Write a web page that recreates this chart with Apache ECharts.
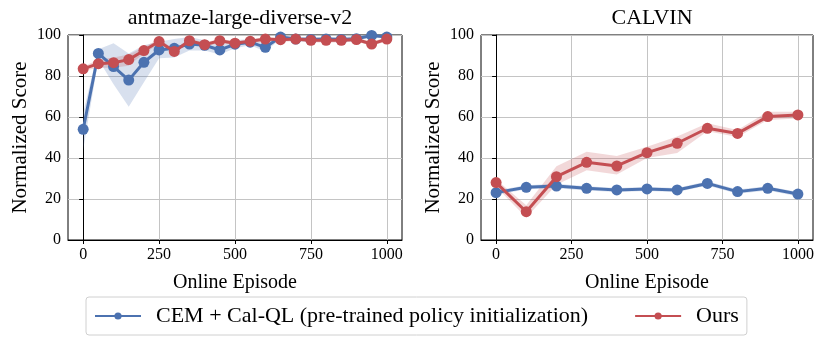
<!DOCTYPE html>
<html>
<head>
<meta charset="utf-8">
<script src="https://cdn.jsdelivr.net/npm/echarts@6/dist/echarts.min.js"></script>
<style>
  html, body { margin: 0; padding: 0; background: #fff; }
  #chart { width: 830px; height: 348px; }
</style>
</head>
<body>
<div id="chart"></div>
<script>
// antmaze (left) - episodes every 50
const antX = [0, 50, 100, 150, 200, 250, 300, 350, 400, 450, 500, 550, 600, 650, 700, 750, 800, 850, 900, 950, 1000];
const antBlue = [54, 91, 84.6, 78, 86.7, 92.7, 93.5, 95.6, 95, 92.7, 95.5, 96.5, 94, 99, 98, 97.8, 98, 97.8, 98.2, 99.8, 99];
const antBlueLow = [44, 88, 76, 65, 77, 88.6, 89, 92.5, 92.5, 90.5, 93.5, 95, 92, 98, 97, 96.5, 97, 96.5, 97, 99, 98];
const antBlueHigh = [62, 93, 96, 91, 95, 96.7, 98, 99, 97.5, 95, 97.5, 98, 96, 100, 99, 99, 99, 99, 99.5, 100.5, 100];
const antRed = [83.5, 86, 86.5, 88, 92.4, 96.8, 92, 97.2, 95.3, 97.2, 96, 96.9, 98, 97.7, 98, 97.4, 97.4, 97.4, 97.8, 95.6, 98];
const antRedLow = [82.5, 84, 84, 85, 91, 95.5, 91, 96.2, 94.3, 96.2, 95, 95.9, 97, 96.7, 97, 96.4, 96.4, 96.4, 96.8, 94.6, 97];
const antRedHigh = [84.5, 88, 89, 90.5, 94, 98, 93, 98.2, 96.3, 98.2, 97, 97.9, 99, 98.7, 99, 98.4, 98.4, 98.4, 98.8, 96.6, 99];

// CALVIN (right) - episodes every 100
const calX = [0, 100, 200, 300, 400, 500, 600, 700, 800, 900, 1000];
const calBlue = [23.1, 25.7, 26.3, 25.2, 24.4, 24.9, 24.4, 27.6, 23.6, 25.2, 22.4];
const calBlueLow = [22, 24.7, 25.2, 24.2, 23.4, 23.9, 23.4, 26.6, 22.6, 24.2, 21.4];
const calBlueHigh = [24.2, 26.7, 27.4, 26.2, 25.4, 25.9, 25.4, 28.6, 24.6, 26.2, 23.4];
const calRed = [28, 13.8, 30.9, 37.9, 36.1, 42.6, 47.2, 54.5, 52, 60.2, 61];
const calRedLow = [26, 11, 27, 34, 32, 40, 42.5, 53, 50.3, 58.5, 59.3];
const calRedHigh = [29.5, 17, 36, 43, 41, 45.5, 50.5, 57, 53.6, 62.6, 62.6];

const xTicks = [0, 250, 500, 750, 1000];
const titles = ["antmaze-large-diverse-v2", "CALVIN"];
const blueName = "CEM + Cal-QL (pre-trained policy initialization)";
const redName = "Ours";

const BLUE = "#4C72B0";
const RED = "#C44E52";
const FONT = "Liberation Serif";

const pair = (xs, ys) => xs.map((x, i) => [x, ys[i]]);

// shaded band drawn as one polygon through the axis scales
function band(idx, xs, low, high, color) {
  return {
    type: "custom", xAxisIndex: idx, yAxisIndex: idx,
    data: pair(xs, low), silent: true, clip: true, z: 1,
    renderItem: (params, api) => {
      if (params.dataIndex !== 0) return null;
      const pts = xs.map((x, i) => api.coord([x, low[i]]));
      for (let i = xs.length - 1; i >= 0; i--) pts.push(api.coord([xs[i], high[i]]));
      return {
        type: "polygon",
        shape: { points: pts },
        style: { fill: color, opacity: 0.22 },
      };
    },
  };
}

function mainLine(idx, name, xs, ys, color, z) {
  return {
    type: "line", name: name, xAxisIndex: idx, yAxisIndex: idx,
    data: pair(xs, ys), symbol: "circle", symbolSize: 11,
    lineStyle: { color: color, width: 3 }, itemStyle: { color: color }, z: z,
  };
}

const grids = [
  { left: 68, top: 35, width: 334, height: 205 },
  { left: 481, top: 35, width: 332, height: 205 },
];

const option = {
  animation: false,
  backgroundColor: "#fff",
  textStyle: { fontFamily: FONT },
  title: titles.map((t, i) => ({
    text: t,
    left: grids[i].left + grids[i].width / 2,
    textAlign: "center",
    top: 2,
    textStyle: { fontFamily: FONT, fontSize: 22, fontWeight: "normal", color: "#000" },
  })),
  grid: grids.map((g) => ({ ...g, show: true, borderColor: "#000", borderWidth: 1, containLabel: false })),
  legend: {
    data: [blueName, redName],
    left: 86, top: 297,
    itemWidth: 46, itemHeight: 9, itemGap: 46,
    padding: [8, 8, 8, 8],
    borderColor: "#d0d0d0", borderWidth: 1, borderRadius: 3,
    textStyle: { fontFamily: FONT, fontSize: 22, color: "#000", padding: [0, 0, 0, 10] },
  },
  xAxis: grids.map((g, i) => ({
    type: "value", gridIndex: i, min: -50, max: 1050,
    name: "Online Episode", nameLocation: "middle", nameGap: 33,
    nameTextStyle: { fontFamily: FONT, fontSize: 20, color: "#000" },
    axisLine: { show: true, onZero: false, lineStyle: { color: "#000", width: 1 } },
    axisTick: { show: true, length: 4, customValues: xTicks, lineStyle: { color: "#000" } },
    axisLabel: { customValues: xTicks, formatter: (v) => String(v), fontFamily: FONT, fontSize: 16, color: "#000", margin: 7 },
    splitLine: { show: true, lineStyle: { color: "#c4c4c4", width: 1 } },
  })),
  yAxis: grids.map((g, i) => ({
    type: "value", gridIndex: i, min: 0, max: 100, interval: 20,
    name: "Normalized Score", nameLocation: "middle", nameGap: 37,
    nameTextStyle: { fontFamily: FONT, fontSize: 21, color: "#000" },
    axisLine: { show: true, lineStyle: { color: "#000", width: 1 } },
    axisTick: { show: true, length: 4, lineStyle: { color: "#000" } },
    axisLabel: { fontFamily: FONT, fontSize: 16, color: "#000", margin: 7 },
    splitLine: { show: true, lineStyle: { color: "#c4c4c4", width: 1 } },
  })),
  series: [
    band(0, antX, antBlueLow, antBlueHigh, BLUE),
    band(0, antX, antRedLow, antRedHigh, RED),
    mainLine(0, blueName, antX, antBlue, BLUE, 3),
    mainLine(0, redName, antX, antRed, RED, 4),
    band(1, calX, calBlueLow, calBlueHigh, BLUE),
    band(1, calX, calRedLow, calRedHigh, RED),
    mainLine(1, blueName, calX, calBlue, BLUE, 3),
    mainLine(1, redName, calX, calRed, RED, 4),
  ],
};

const chart = echarts.init(document.getElementById("chart"));
chart.setOption(option);
</script>
</body>
</html>
